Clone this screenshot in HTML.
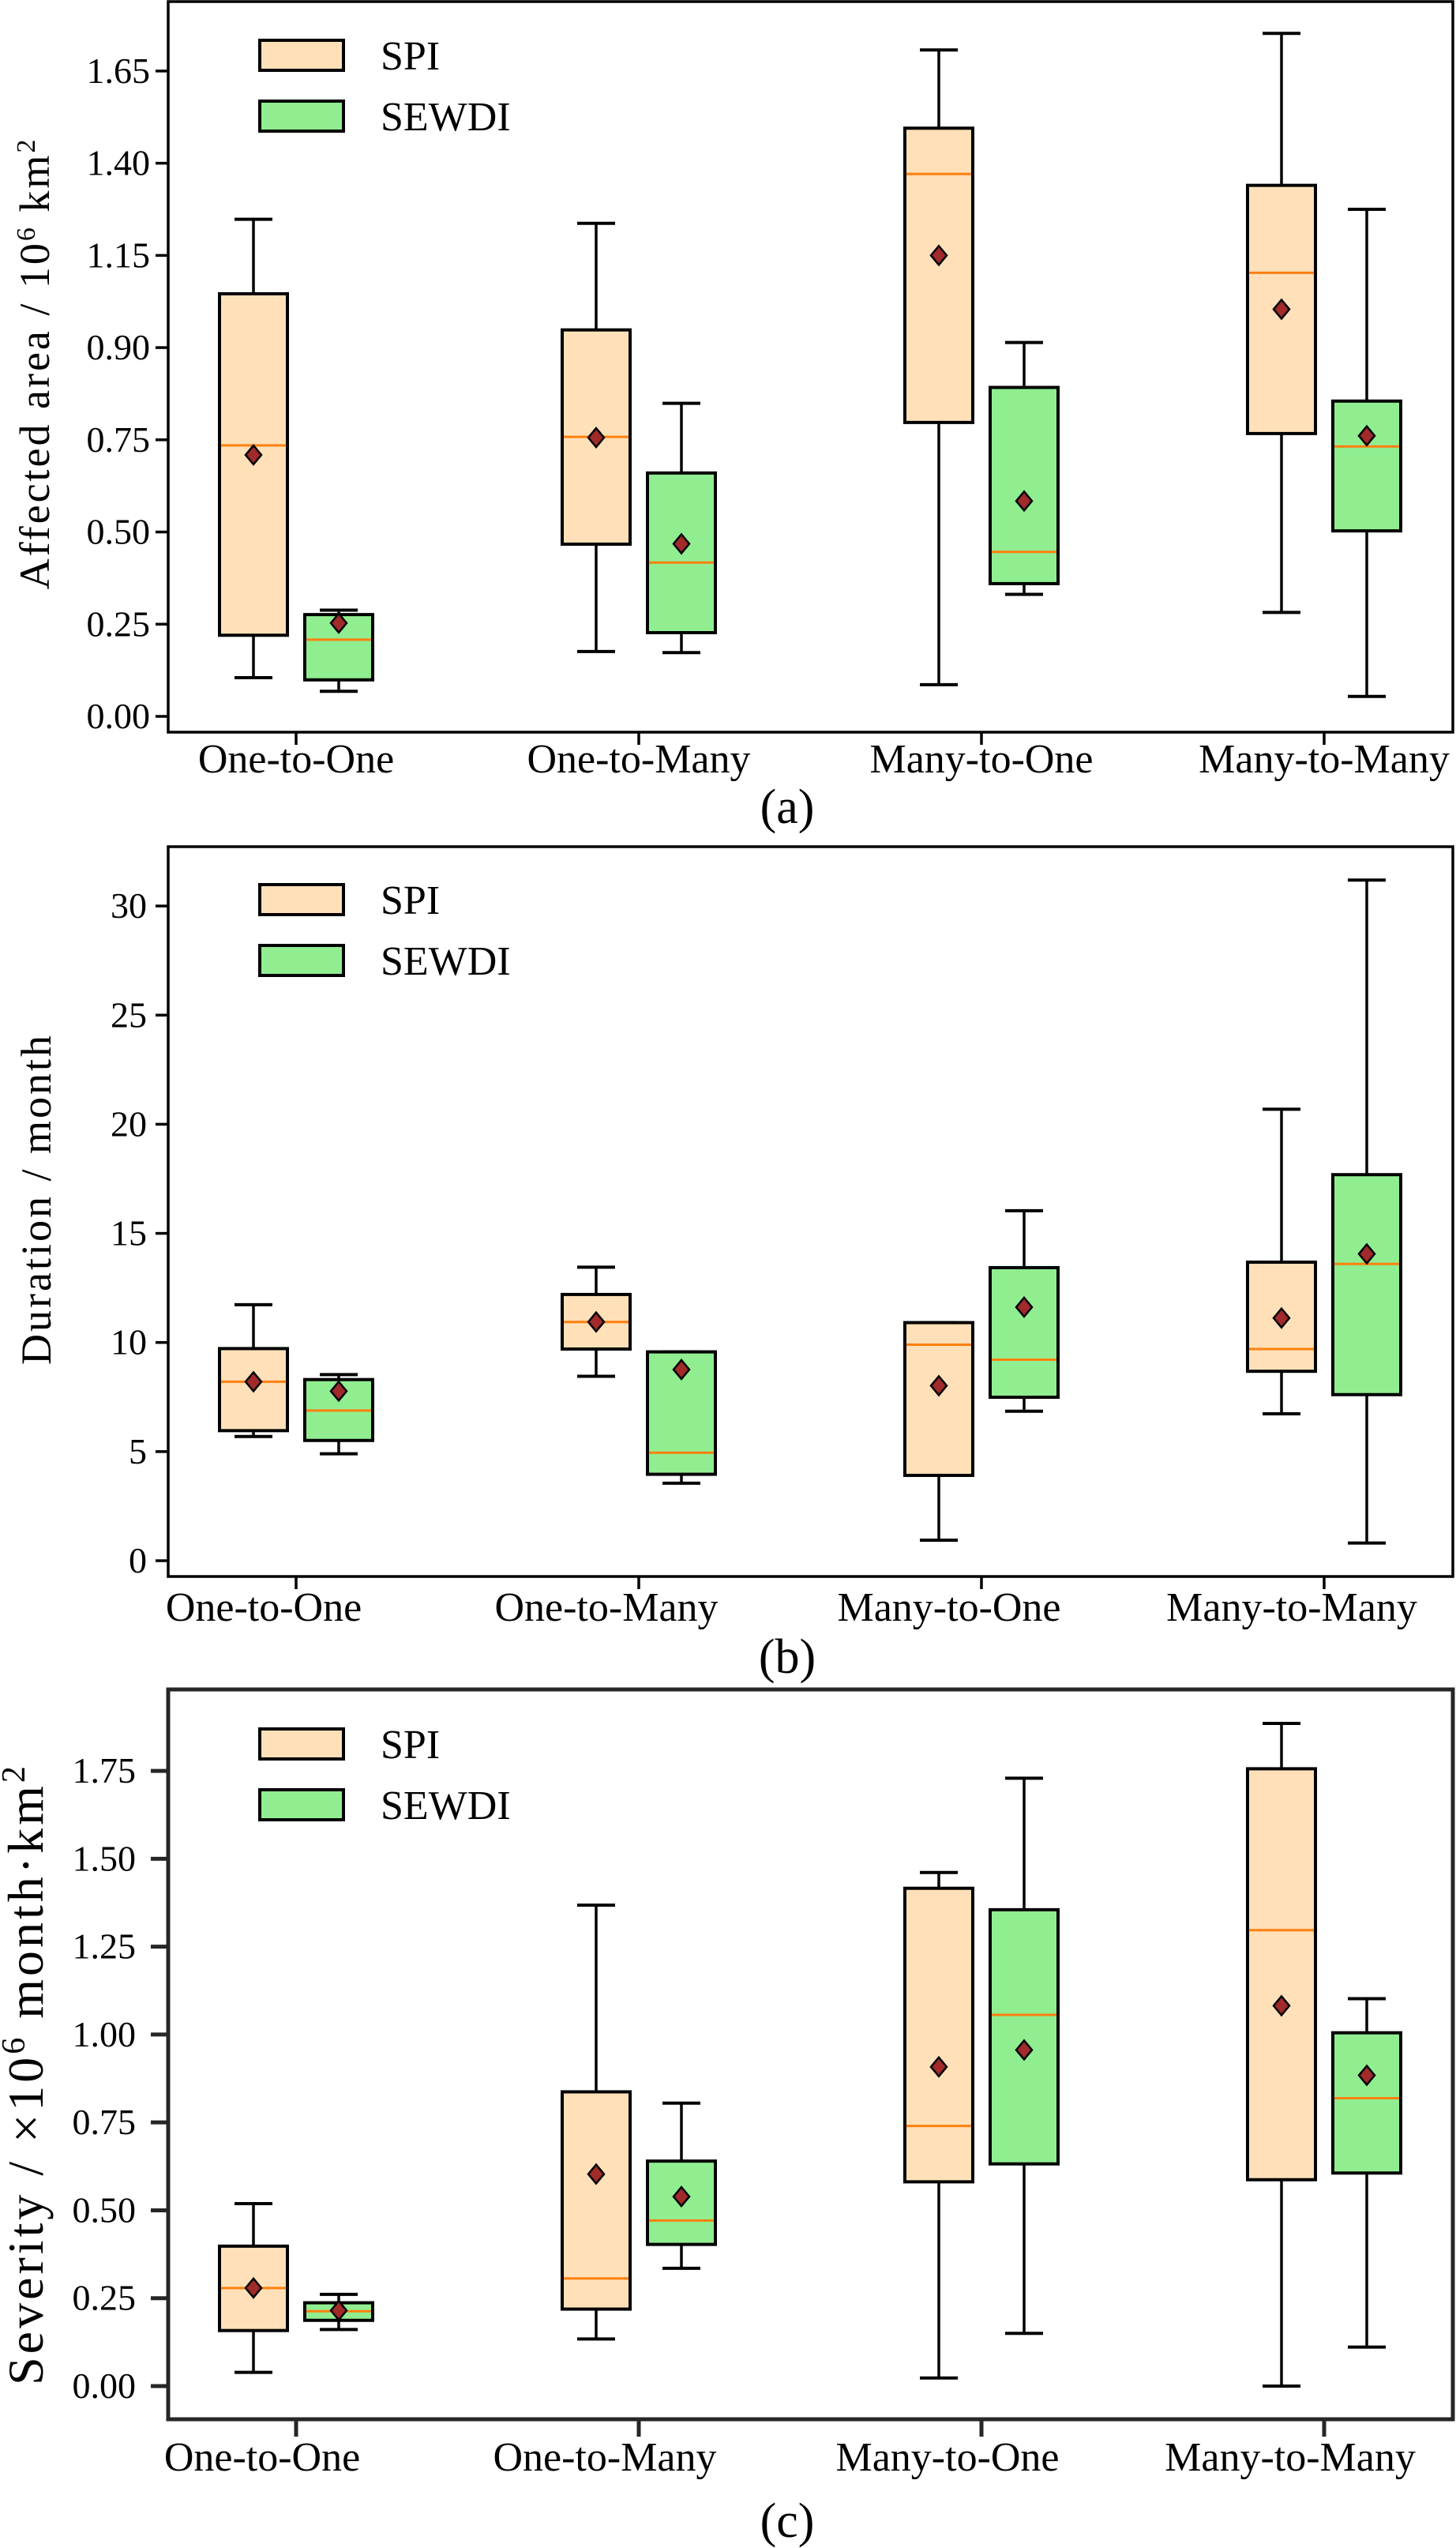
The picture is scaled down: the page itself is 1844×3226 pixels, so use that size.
<!DOCTYPE html>
<html><head><meta charset="utf-8"><style>
html,body{margin:0;padding:0;background:#fff;}
svg{display:block;font-family:"Liberation Serif","DejaVu Serif",serif;}
text{font-family:"Liberation Serif","DejaVu Serif",serif;fill:#000;}
</style></head><body>
<svg id="chart" width="1844" height="3226" viewBox="0 0 1844 3226" xmlns="http://www.w3.org/2000/svg" font-family="Liberation Serif, serif">
</svg>
<script>
const categories = ["One-to-One","One-to-Many","Many-to-One","Many-to-Many"];
const seriesNames = ["SPI","SEWDI"];
// [whiskerLow, Q1, median, Q3, whiskerHigh, mean]
const areaSPI   = [[0.105,0.220,0.735,1.146,1.348,0.709],[0.176,0.467,0.758,1.048,1.337,0.756],[0.086,0.797,1.471,1.595,1.807,1.250],[0.282,0.767,1.203,1.440,1.852,1.104]];
const areaSEWDI = [[0.068,0.099,0.208,0.276,0.288,0.253],[0.173,0.227,0.417,0.660,0.849,0.468],[0.331,0.360,0.446,0.892,1.014,0.584],[0.054,0.503,0.732,0.855,1.375,0.761]];
const areaTicks = [0,0.25,0.5,0.75,1.0,1.25,1.5,1.75];
const areaTickLabels = ["0.00","0.25","0.50","0.75","0.90","1.15","1.40","1.65"];
const durSPI   = [[5.69,5.96,8.2,9.72,11.73,8.2],[8.45,9.7,10.94,12.2,13.45,10.94],[0.94,3.91,9.9,10.91,10.91,8.02],[6.73,8.68,9.7,13.68,20.69,11.12]];
const durSEWDI = [[4.9,5.51,6.88,8.3,8.53,7.77],[3.55,3.96,4.95,9.57,9.57,8.76],[6.85,7.49,9.21,13.43,16.04,11.62],[0.81,7.61,13.6,17.69,31.19,14.06]];
const durTicks = [0,5,10,15,20,25,30];
const durTickLabels = ["0","5","10","15","20","25","30"];
const sevSPI   = [[0.039,0.158,0.279,0.398,0.519,0.279],[0.134,0.219,0.306,0.837,1.368,0.603],[0.023,0.581,0.740,1.416,1.461,0.908],[0.0,0.587,1.297,1.756,1.885,1.082]];
const sevSEWDI = [[0.161,0.187,0.213,0.237,0.261,0.215],[0.335,0.403,0.471,0.640,0.805,0.539],[0.150,0.632,1.056,1.355,1.729,0.956],[0.111,0.606,0.819,1.005,1.102,0.884]];
const sevTicks = [0,0.25,0.5,0.75,1.0,1.25,1.5,1.75];
const sevTickLabels = ["0.00","0.25","0.50","0.75","1.00","1.25","1.50","1.75"];

const NS="http://www.w3.org/2000/svg";
const svg=document.getElementById('chart');
const FF='"Liberation Serif", "DejaVu Serif", serif';
function mk(tag,attrs,parent,text){const e=document.createElementNS(NS,tag);for(const k in attrs)e.setAttribute(k,attrs[k]);if(tag==='text')e.style.fontFamily=FF;if(text!==undefined)e.textContent=text;(parent||svg).appendChild(e);return e;}
const fills=["#ffe0b9","#90ee90"];

function panel(cfg){
  const g=mk('g',{});
  
  
  const L=213,R=1840,T=cfg.top,B=cfg.bottom;
  const yS=v=>cfg.y0-(v-cfg.vmin)*cfg.ppu;
  const xS=i=>375+i*434;
  const sets=[cfg.a,cfg.b];
  sets.forEach((data,s)=>{
    data.forEach((d,i)=>{
      const cx=xS(i)+(s===0?-54:54), w=86;
      const bg=mk('g',{},g);
      
      
      mk('line',{x1:cx,x2:cx,y1:yS(d[3]),y2:yS(d[4]),stroke:'#000','stroke-width':3.5},bg);
      mk('line',{x1:cx,x2:cx,y1:yS(d[1]),y2:yS(d[0]),stroke:'#000','stroke-width':3.5},bg);
      mk('line',{x1:cx-24,x2:cx+24,y1:yS(d[4]),y2:yS(d[4]),stroke:'#000','stroke-width':4},bg);
      mk('line',{x1:cx-24,x2:cx+24,y1:yS(d[0]),y2:yS(d[0]),stroke:'#000','stroke-width':4},bg);
      mk('rect',{x:cx-w/2,y:yS(d[3]),width:w,height:Math.max(1,yS(d[1])-yS(d[3])),fill:fills[s],stroke:'#000','stroke-width':4},bg);
      mk('line',{x1:cx-w/2+2,x2:cx+w/2-2,y1:yS(d[2]),y2:yS(d[2]),stroke:'#ff7f0e','stroke-width':3},bg);
      const my=yS(d[5]);
      mk('polygon',{points:`${cx},${my-12} ${cx+10},${my} ${cx},${my+12} ${cx-10},${my}`,fill:'#a12a2a',stroke:'#000','stroke-width':2.5},bg);
    });
  });
  const fr=mk('rect',{x:L,y:T,width:R-L,height:B-T,fill:'none',stroke:cfg.frameColor,'stroke-width':cfg.frameW},g);
  
  
  cfg.ticks.forEach((v,i)=>{
    const y=yS(v);
    mk('line',{x1:L-cfg.tickLen,x2:L,y1:y,y2:y,stroke:cfg.frameColor,'stroke-width':cfg.frameW},g);
    const t=mk('text',{x:cfg.labelRight,y:y+15,'text-anchor':'end','font-size':46},g,cfg.tickLabels[i]);
    
    
  });
  categories.forEach((c,i)=>{
    const x=xS(i);
    mk('line',{x1:x,x2:x,y1:B,y2:B+cfg.tickLen,stroke:cfg.frameColor,'stroke-width':cfg.frameW},g);
    const t=mk('text',{x:x+cfg.xShift,y:cfg.xBase,'text-anchor':'middle','font-size':52},g,c);
    
    
  });
  const yt=mk('text',{x:0,y:0,'text-anchor':'middle','font-size':cfg.ytFs,'letter-spacing':cfg.ytLs,transform:`translate(${cfg.ytX},${cfg.ytY}) rotate(-90)`},g);
  yt.innerHTML=cfg.ytitle;
  
  
  const pl=mk('text',{x:997,y:cfg.letterBase,'text-anchor':'middle','font-size':62},g,cfg.letter);
  
  
  const lg=mk('g',{},g);
  
  
  seriesNames.forEach((n,s)=>{
    const py=cfg.legTop+s*77;
    const e=mk('g',{},lg);
    
    
    mk('rect',{x:329,y:py,width:106,height:38,fill:fills[s],stroke:'#000','stroke-width':4},e);
    mk('text',{x:482,y:py+37,'font-size':52},e,n);
  });
}

panel({name:'panel-a-affected-area',top:2,bottom:927,y0:907,vmin:0,ppu:466.9,a:areaSPI,b:areaSEWDI,ticks:areaTicks,tickLabels:areaTickLabels,
  frameColor:'#000',frameW:3.5,tickLen:16,labelRight:190,xShift:0,xBase:978,
  ytitle:'Affected area / 10<tspan baseline-shift="super" font-size="34">6</tspan> km<tspan baseline-shift="super" font-size="34">2</tspan>',ytFs:54,ytLs:3,ytX:62,ytY:460,letter:'(a)',letterBase:1042,legTop:51});
panel({name:'panel-b-duration',top:1072,bottom:1996,y0:1976,vmin:0,ppu:27.63,a:durSPI,b:durSEWDI,ticks:durTicks,tickLabels:durTickLabels,
  frameColor:'#000',frameW:3.5,tickLen:16,labelRight:186,xShift:-41,xBase:2052,
  ytitle:'Duration / month',ytFs:54,ytLs:3,ytX:64,ytY:1518,letter:'(b)',letterBase:2118,legTop:1120});
panel({name:'panel-c-severity',top:2139,bottom:3063,y0:3021,vmin:0,ppu:445.1,a:sevSPI,b:sevSEWDI,ticks:sevTicks,tickLabels:sevTickLabels,
  frameColor:'#262626',frameW:5,tickLen:22,labelRight:172,xShift:-43,xBase:3128,
  ytitle:'Severity / ×10<tspan baseline-shift="super" font-size="42">6</tspan> month·km<tspan baseline-shift="super" font-size="42">2</tspan>',ytFs:64,ytLs:4,ytX:54,ytY:2626,letter:'(c)',letterBase:3212,legTop:2189});
</script>
</body></html>
